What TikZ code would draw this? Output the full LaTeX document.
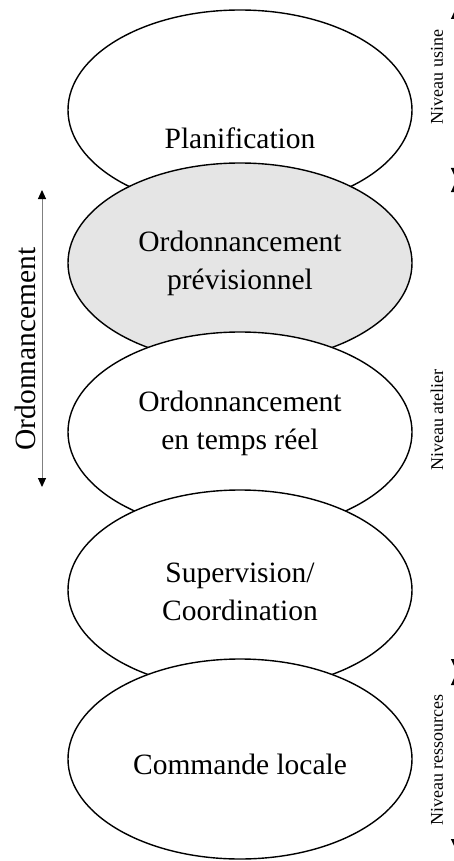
\documentclass[tikz,border=0pt]{standalone}
\usepackage{fontspec}
\setmainfont{Liberation Serif}
\usetikzlibrary{shapes.geometric,arrows.meta}
\begin{document}
\begin{tikzpicture}[x=1pt,y=-1pt,
  lvl/.style={ellipse,draw=black,line width=1.4pt,minimum width=344pt,minimum height=200pt,inner sep=0pt,fill=white},
  lbl/.style={font=\fontsize{29.5}{38}\selectfont,align=center,inner sep=0pt},
  side/.style={font=\fontsize{18}{20}\selectfont,rotate=90,inner sep=0pt},
  dbl/.style={line width=1pt,draw=gray,{Triangle[length=9pt,width=8pt,color=black]}-{Triangle[length=9pt,width=8pt,color=black]}}
]
\useasboundingbox (0,0) rectangle (453,861);
% ellipses, drawn top to bottom so each covers the one above
\node[lvl] (e1) at (240,110) {};
\node[lvl,fill=black!10] (e2) at (240,263) {};
\node[lvl] (e3) at (240,432) {};
\node[lvl] (e4) at (240,590) {};
\node[lvl] (e5) at (240,759) {};
\node[lbl] (t1) at (240,138) {Planification};
\node[lbl] (t2) at (240,263) {Ordonnancement\\prévisionnel};
\node[lbl] (t3) at (240,423) {Ordonnancement\\en temps réel};
\node[lbl] (t4) at (240,592) {Supervision/\\Coordination};
\node[lbl] (t5) at (240,764) {Commande locale};
% left arrow
\coordinate (la) at (42,190);
\coordinate (lb) at (42,487);
\draw[dbl] (la) -- (lb);
\node[lbl,rotate=90] (lo) at (25,349) {Ordonnancement};
% right arrows
\coordinate (r0) at (455,10);
\coordinate (r1) at (455,177);
\coordinate (r2) at (455,183);
\coordinate (r3) at (455,668);
\coordinate (r4) at (455,676);
\coordinate (r5) at (455,848);
\draw[dbl] (r0) -- (r1);
\draw[dbl] (r2) -- (r3);
\draw[dbl] (r4) -- (r5);
\node[side] (n1) at (437,77) {Niveau usine};
\node[side] (n2) at (437,420) {Niveau atelier};
\node[side] (n3) at (437,760) {Niveau ressources};
\end{tikzpicture}
\end{document}
